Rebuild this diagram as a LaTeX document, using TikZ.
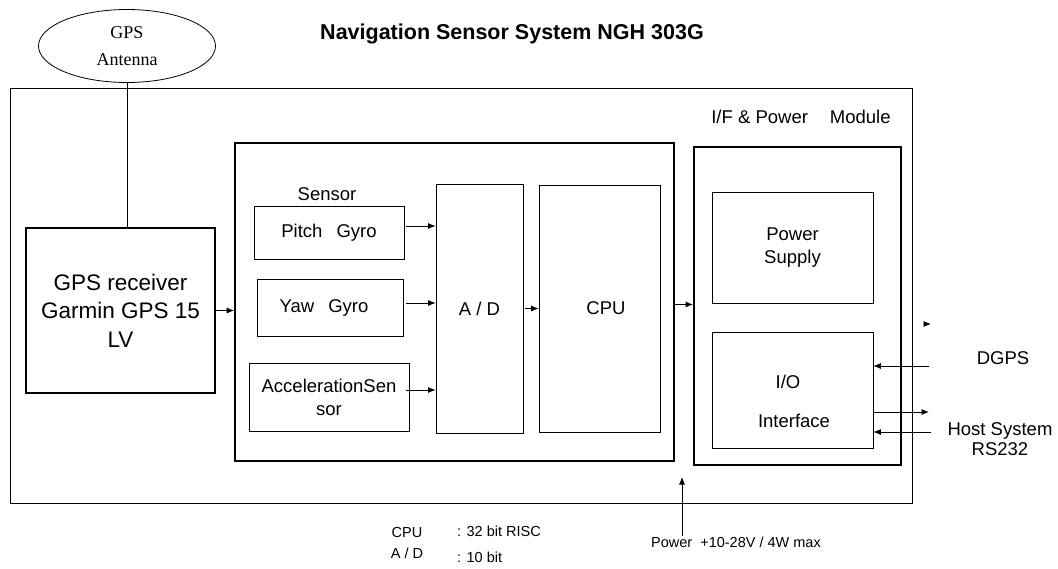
\documentclass[tikz,border=0pt]{standalone}
\usepackage{fontspec}
\setmainfont{Liberation Sans}
\newfontfamily\antfont{Liberation Serif}
\usepackage{tikz}
\usetikzlibrary{positioning, arrows.meta, shapes.geometric}

\tikzset{
  thinbox/.style={draw, rectangle, line width=0.8pt, inner sep=0pt, align=center, font=\fontsize{18.5}{23}\selectfont},
  thickbox/.style={draw, rectangle, line width=1.7pt, inner sep=0pt, align=center},
  lbl/.style={inner sep=0pt, align=center, font=\fontsize{18.5}{20}\selectfont},
  small/.style={inner sep=0pt, font=\fontsize{14.5}{16}\selectfont},
  arr/.style={-{Latex[length=7.5pt,width=6pt]}, line width=0.8pt}
}

\begin{document}
\begin{tikzpicture}[x=1pt, y=-1pt]
        \useasboundingbox (0,0) rectangle (1058,568);

        % title and antenna
        \node[inner sep=0pt, font=\fontsize{21.5}{24}\selectfont\bfseries](title) at (512,34) {Navigation Sensor System NGH 303G};
        \node[draw, ellipse, line width=0.8pt, minimum width=177, minimum height=73, inner sep=0pt, align=center, font=\antfont\fontsize{18}{27}\selectfont](antenna) at (127,46) {GPS\\Antenna};

        % outer frame
        \node[draw, rectangle, line width=0.8pt, minimum width=902, minimum height=415, inner sep=0pt](frame) at (461,295.5) {};

        % GPS receiver
        \node[thickbox, minimum width=189, minimum height=165, font=\fontsize{22.5}{28.5}\selectfont](gps) at (120.5,310.5) {GPS receiver\\Garmin GPS 15\\LV};

        % sensor block
        \node[thickbox, minimum width=439, minimum height=318](sensorblk) at (454.5,302) {};
        \node[lbl](sensorlbl) at (327,194) {Sensor};
        \node[thinbox, minimum width=150, minimum height=53](pitch) at (329,232.5) {Pitch\hspace{14pt}Gyro};
        \node[thinbox, minimum width=146, minimum height=57](yaw) at (330,307.5) {Yaw\hspace{14pt}Gyro\hspace{12pt}};
        \node[thinbox, minimum width=160, minimum height=68](accel) at (329,397) {AccelerationSen\\sor};
        \node[thinbox, minimum width=87, minimum height=249](ad) at (479.5,308.5) {A / D};
        \node[thinbox, minimum width=121, minimum height=247](cpu) at (599.5,308.5) {\hspace{13pt}CPU};

        % I/F & power module
        \node[lbl](ifpwlbl) at (801,117) {I/F \& Power\hspace{22pt}Module};
        \node[thickbox, minimum width=207, minimum height=318](ifpw) at (797.5,306) {};
        \node[thinbox, minimum width=161, minimum height=111](supply) at (792.5,247.5) {Power\\Supply};
        \node[thinbox, minimum width=161, minimum height=116](io) at (792.5,390) {};
        \node[lbl](iolbl) at (788,382) {I/O};
        \node[lbl](iflbl) at (794,421) {Interface};

        % outside labels
        \node[lbl](dgps) at (1003,358) {DGPS};
        \node[lbl](host) at (1000,439) {Host System\\RS232};
        \node[small](pwrlbl) at (736,542) {Power\hspace{8pt}+10-28V / 4W max};
        \node[small](cpuspec) at (407,533) {CPU};
        \node[small](adspec) at (407,553) {A / D};
        \node[small, anchor=west](cpuval) at (457,531) {: 32 bit RISC};
        \node[small, anchor=west](adval) at (457,557) {: 10 bit};

        \coordinate (pwrtip) at (682,477);
        \coordinate (stray) at (931,324);
        \coordinate (ext) at (929,0);

        % connectors
        \draw[line width=0.8pt] (antenna.south) -- (antenna.south |- gps.north);
        \draw[arr] (gps.east) -- (gps.east -| sensorblk.west);
        \draw[arr] ([xshift=2pt,yshift=6.5pt]pitch.east) coordinate (p1) -- (p1 -| ad.west);
        \draw[arr] ([xshift=3pt,yshift=4.5pt]yaw.east) coordinate (p2) -- (p2 -| ad.west);
        \draw[arr] ([xshift=-3pt,yshift=7pt]accel.east) coordinate (p3) -- (p3 -| ad.west);
        \draw[arr] ([xshift=2pt]ad.east) -- (cpu.west);
        \draw[arr, line width=1.2pt] ([yshift=-2.5pt]sensorblk.east) coordinate (p4) -- (p4 -| ifpw.west);
        \draw[arr] ([yshift=24pt]io.east -| ext) coordinate (p5) -- (p5 -| io.east);
        \draw[arr] ([yshift=-22pt]io.east) coordinate (p6) -- (p6 -| ext);
        \draw[arr] ([xshift=2pt,yshift=-42pt]io.east -| ext) coordinate (p7) -- (p7 -| io.east);
        \draw[arr] (pwrtip |- pwrlbl.north) -- (pwrtip);
        \draw[arr] ([xshift=-5pt]stray) -- (stray);
\end{tikzpicture}
\end{document}
